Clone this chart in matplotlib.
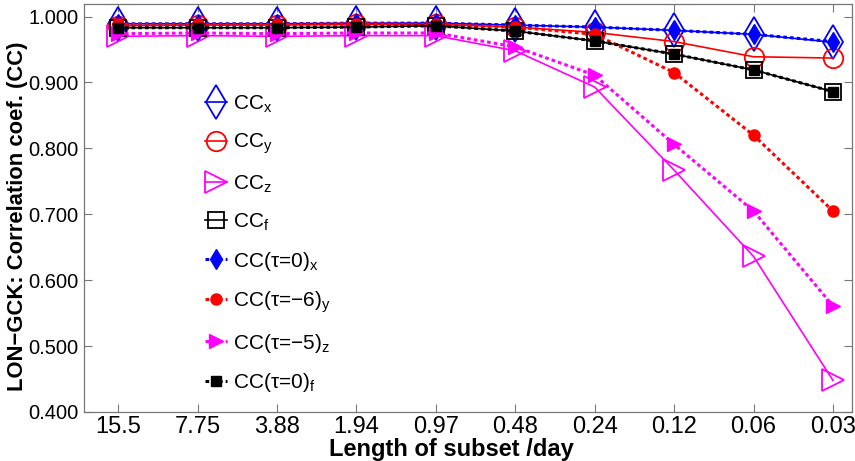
import numpy as np
import matplotlib
matplotlib.use('Agg')
import matplotlib.pyplot as plt

plt.rcParams['font.family'] = ['Liberation Sans', 'DejaVu Sans']
plt.rcParams['mathtext.fontset'] = 'custom'
plt.rcParams['mathtext.rm'] = 'Liberation Sans'

# length of subset / day
lengths = ['15.5', '7.75', '3.88', '1.94', '0.97', '0.48', '0.24', '0.12', '0.06', '0.03']

cc_x = [0.989, 0.989, 0.989, 0.990, 0.990, 0.987, 0.984, 0.979, 0.973, 0.961]
cc_y = [0.986, 0.987, 0.987, 0.988, 0.988, 0.984, 0.976, 0.962, 0.939, 0.937]
cc_z = [0.970, 0.971, 0.970, 0.971, 0.971, 0.948, 0.893, 0.767, 0.636, 0.448]
cc_f = [0.983, 0.983, 0.983, 0.984, 0.986, 0.978, 0.963, 0.943, 0.919, 0.886]

cc_x_lag = [0.989, 0.989, 0.989, 0.990, 0.990, 0.987, 0.984, 0.979, 0.973, 0.962]
cc_y_lag = [0.988, 0.988, 0.988, 0.989, 0.988, 0.984, 0.973, 0.915, 0.820, 0.705]
cc_z_lag = [0.974, 0.975, 0.974, 0.975, 0.975, 0.954, 0.911, 0.806, 0.705, 0.561]
cc_f_lag = [0.983, 0.983, 0.983, 0.984, 0.986, 0.978, 0.963, 0.943, 0.919, 0.886]

lab_open = ['CC$_\\mathregular{x}$', 'CC$_\\mathregular{y}$',
            'CC$_\\mathregular{z}$', 'CC$_\\mathregular{f}$']
lab_lag = ['CC(τ=0)$_\\mathregular{x}$', 'CC(τ=\u22126)$_\\mathregular{y}$',
           'CC(τ=\u22125)$_\\mathregular{z}$', 'CC(τ=0)$_\\mathregular{f}$']

x = np.arange(1, len(lengths) + 1)

fig = plt.figure(figsize=(8.55, 4.61), dpi=100)
ax = fig.add_axes([0.0982, 0.1063, 0.8983, 0.885])

# open markers, solid lines
ax.plot(x, cc_x, color='#0000ff', lw=1.2, marker='d', ms=17, mfc='none', mew=1.3, label=lab_open[0])
ax.plot(x, cc_y, color='#ff0000', lw=1.2, marker='o', ms=14, mfc='none', mew=1.3, label=lab_open[1])
ax.plot(x, cc_z, color='#ff00ff', lw=1.2, marker='>', ms=16, mfc='none', mew=1.3, label=lab_open[2])
ax.plot(x, cc_f, color='k', lw=1.2, marker='s', ms=12, mfc='none', mew=1.3, label=lab_open[3])

# filled markers, dotted lines
dots = (0, (1.2, 1.0))
ax.plot(x, cc_x_lag, color='#0000ff', lw=2.2, ls=dots, marker='d', ms=10, label=lab_lag[0])
ax.plot(x, cc_y_lag, color='#ff0000', lw=2.2, ls=dots, marker='o', ms=8, label=lab_lag[1])
ax.plot(x, cc_z_lag, color='#ff00ff', lw=2.2, ls=dots, marker='>', ms=10, label=lab_lag[2])
ax.plot(x, cc_f_lag, color='k', lw=2.2, ls=dots, marker='s', ms=7, label=lab_lag[3])

ax.set_xlim(0.57, 10.24)
ax.set_ylim(0.4, 1.019)
ax.set_xticks(x)
ax.set_xticklabels(lengths, family=['Liberation Sans Narrow', 'Liberation Sans'], fontsize=17)
ax.set_yticks(np.arange(0.4, 1.001, 0.1))
ax.yaxis.set_major_formatter(matplotlib.ticker.FormatStrFormatter('%.3f'))
ax.tick_params(direction='in', length=6, width=0.8, color='#777777', labelsize=14.5,
               top=True, right=True, pad=4)
ax.tick_params(axis='x', labelsize=17, pad=3)
for s in ax.spines.values():
    s.set_color('#777777')
    s.set_linewidth(0.9)

ax.set_xlabel('Length of subset /day', fontsize=17, fontweight='bold',
              family=['Liberation Sans Narrow', 'Liberation Sans'])
ax.xaxis.set_label_coords(0.479, -0.063)
ax.set_ylabel('LON\u2212GCK: Correlation coef. (CC)', fontsize=15.8, fontweight='bold', va='center')
ax.yaxis.set_label_coords(-0.086, 0.48)

ax.legend(loc='upper left', bbox_to_anchor=(0.1576, 0.781), frameon=False, fontsize=15,
          handlelength=1.05, handletextpad=0.3, labelspacing=0.8, borderpad=0,
          borderaxespad=0, numpoints=1)

fig.savefig('out.png', dpi=100)
